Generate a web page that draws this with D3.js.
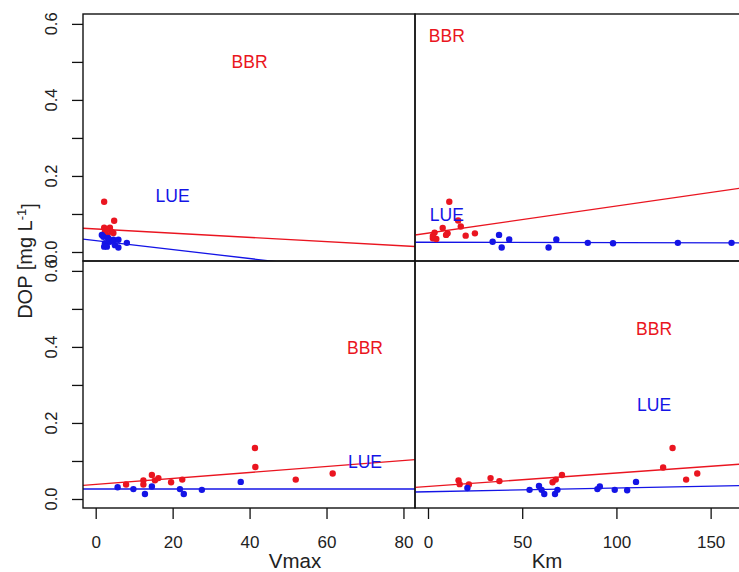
<!DOCTYPE html>
<html><head><meta charset="utf-8">
<script src="https://cdn.jsdelivr.net/npm/d3@7"></script>
<style>body{margin:0;background:#fff}svg{display:block}text{font-family:"Liberation Sans",Arial,sans-serif}</style>
</head><body><svg id="c" width="739" height="572"></svg>
<script>
// ---------- data ----------
const vmaxTicks = [0, 20, 40, 60, 80];
const kmTicks = [0, 50, 100, 150];
const yTicks = [0, 0.1, 0.2, 0.3, 0.4, 0.5, 0.6];
const yTickLabels = ["0.0", "0.2", "0.4", "0.6"];

// top-left (Vmax, upper row)
const tlBBR = [[2.2,0.132],[4.8,0.082],[2.2,0.064],[3.7,0.064],[4.1,0.053],[2.9,0.045],[3.3,0.036],[2.4,0.053],[4.6,0.050],[2.9,0.060]];
const tlLUE = [[1.6,0.045],[2.0,0.040],[2.4,0.023],[2.2,0.014],[3.7,0.027],[4.6,0.032],[5.0,0.018],[5.9,0.012],[5.9,0.032],[8.1,0.024],[2.9,0.014],[3.2,0.037]];
// top-right (Km, upper row)
const trBBR = [[11.3,0.132],[16.0,0.083],[17.4,0.067],[7.8,0.063],[3.5,0.051],[10.4,0.049],[9.6,0.045],[20.0,0.043],[24.9,0.049],[2.6,0.036],[4.4,0.034],[2.6,0.042]];
const trLUE = [[34.3,0.027],[37.7,0.045],[39.1,0.012],[43.1,0.033],[64.0,0.012],[68.1,0.033],[84.8,0.024],[98.2,0.023],[132.6,0.024],[161.1,0.024]];
// bottom-left (Vmax)
const blBBR = [[7.9,0.038],[12.4,0.049],[12.4,0.038],[14.6,0.063],[15.4,0.049],[16.3,0.055],[19.6,0.044],[22.5,0.051],[41.4,0.134],[41.5,0.084],[52.0,0.051],[61.6,0.067]];
const blLUE = [[5.7,0.031],[9.8,0.026],[12.8,0.013],[14.6,0.033],[21.9,0.026],[22.9,0.013],[27.6,0.024],[37.7,0.045]];
// bottom-right (Km)
const brBBR = [[16.2,0.049],[16.8,0.039],[21.7,0.038],[33.2,0.055],[37.9,0.047],[66.1,0.044],[67.8,0.051],[71.1,0.063],[124.8,0.083],[129.8,0.134],[137.0,0.051],[142.9,0.067]];
const brLUE = [[20.9,0.029],[53.9,0.024],[58.9,0.034],[60.3,0.024],[61.7,0.013],[67.4,0.013],[68.7,0.024],[89.9,0.026],[91.2,0.033],[99.1,0.024],[105.7,0.023],[110.4,0.045]];

// regression lines [intercept, slope]
const tlFitBBR = [0.0606, -0.000556], tlFitLUE = [0.030, -0.00118];
const trFitBBR = [0.0496, 0.000712], trFitLUE = [0.0255, -0.00001];
const blFitBBR = [0.0384, 0.000783], blFitLUE = [0.0263, 0];
const brFitBBR = [0.0329, 0.000354], brFitLUE = [0.0191, 0.0000983];

// annotation positions (data coords)
const tlText = [["BBR",40,0.5],["LUE",20,0.147]];
const trText = [["BBR",10,0.568],["LUE",10,0.098]];
const blText = [["BBR",70,0.398],["LUE",70,0.099]];
const brText = [["BBR",120,0.447],["LUE",120,0.248]];

// ---------- drawing ----------
const RED = "#ea1520", BLUE = "#1414e6";
const svg = d3.select("#c");
const L = 83, M = 415, R = 747, T = 14, MID = 261, B = 508;

const xV = d3.scaleLinear().domain([-3.3, 83.0]).range([L, M]);
const xK = d3.scaleLinear().domain([-6.9, 169.3]).range([M, R]);
const yTop = d3.scaleLinear().domain([-0.0237, 0.626]).range([MID, T]);
const yBot = d3.scaleLinear().domain([-0.0237, 0.626]).range([B, MID]);

const defs = svg.append("defs");
let clipId = 0;
function panel(x, y, bbr, lue, fitB, fitL, texts) {
  const id = "clip" + (clipId++);
  const [x0, x1] = x.range(), [y1, y0] = y.range();
  defs.append("clipPath").attr("id", id).append("rect")
    .attr("x", x0).attr("y", y0).attr("width", x1 - x0).attr("height", y1 - y0);
  const g = svg.append("g").attr("clip-path", `url(#${id})`);
  const dom = x.domain();
  const line = d3.line().x(d => x(d[0])).y(d => y(d[1]));
  [[fitB, RED], [fitL, BLUE]].forEach(([f, col]) => {
    g.append("path").attr("d", line(dom.map(v => [v, f[0] + f[1] * v])))
      .attr("stroke", col).attr("stroke-width", 1.3).attr("fill", "none");
  });
  [[bbr, RED], [lue, BLUE]].forEach(([pts, col]) => {
    g.selectAll(null).data(pts).enter().append("circle")
      .attr("cx", d => x(d[0])).attr("cy", d => y(d[1])).attr("r", 3.2).attr("fill", col);
  });
  g.selectAll(null).data(texts).enter().append("text")
    .attr("x", d => x(d[1])).attr("y", d => y(d[2])).attr("dy", "0.36em")
    .attr("text-anchor", "middle").attr("font-size", 17.5)
    .attr("fill", d => d[0] === "BBR" ? RED : BLUE).text(d => d[0]);
  svg.append("rect").attr("x", x0).attr("y", y0).attr("width", x1 - x0).attr("height", y1 - y0)
    .attr("fill", "none").attr("stroke", "#111").attr("stroke-width", 1.4);
}
panel(xV, yTop, tlBBR, tlLUE, tlFitBBR, tlFitLUE, tlText);
panel(xK, yTop, trBBR, trLUE, trFitBBR, trFitLUE, trText);
panel(xV, yBot, blBBR, blLUE, blFitBBR, blFitLUE, blText);
panel(xK, yBot, brBBR, brLUE, brFitBBR, brFitLUE, brText);

// y axes
function yAxis(y) {
  const g = svg.append("g").attr("transform", `translate(${L},0)`)
    .call(d3.axisLeft(y).tickValues(yTicks).tickSize(11).tickFormat(""));
  g.select(".domain").remove();
  g.selectAll(".tick line").attr("stroke", "#111").attr("stroke-width", 1.3);
  yTickLabels.forEach(lbl => {
    const v = +lbl;
    svg.append("text").attr("transform", `translate(51.5,${y(v)}) rotate(-90)`)
      .attr("text-anchor", "middle").attr("dy", "0.36em").attr("font-size", 16.5)
      .attr("fill", "#222").text(lbl);
  });
}
yAxis(yTop); yAxis(yBot);

// x axes
function xAxis(x, ticks) {
  const g = svg.append("g").attr("transform", `translate(0,${B})`)
    .call(d3.axisBottom(x).tickValues(ticks).tickSize(11).tickPadding(17).tickFormat(d3.format("d")));
  g.select(".domain").remove();
  g.selectAll(".tick line").attr("stroke", "#111").attr("stroke-width", 1.3);
  g.selectAll(".tick text").attr("font-size", 17).attr("fill", "#222")
    .attr("font-family", "Liberation Sans, Arial, sans-serif");
}
xAxis(xV, vmaxTicks); xAxis(xK, kmTicks);

// axis titles
svg.append("text").attr("x", 295).attr("y", 568).attr("text-anchor", "middle")
  .attr("font-size", 20.5).attr("fill", "#222").text("Vmax");
svg.append("text").attr("x", 547).attr("y", 568).attr("text-anchor", "middle")
  .attr("font-size", 20.5).attr("fill", "#222").text("Km");
const yt = svg.append("text").attr("transform", "translate(32,261) rotate(-90)")
  .attr("text-anchor", "middle").attr("font-size", 20).attr("fill", "#222");
yt.append("tspan").text("DOP [mg  L");
yt.append("tspan").attr("dy", "-0.5em").attr("font-size", 13).text("-1");
yt.append("tspan").attr("dy", "0.5em").text("]");
</script></body></html>
